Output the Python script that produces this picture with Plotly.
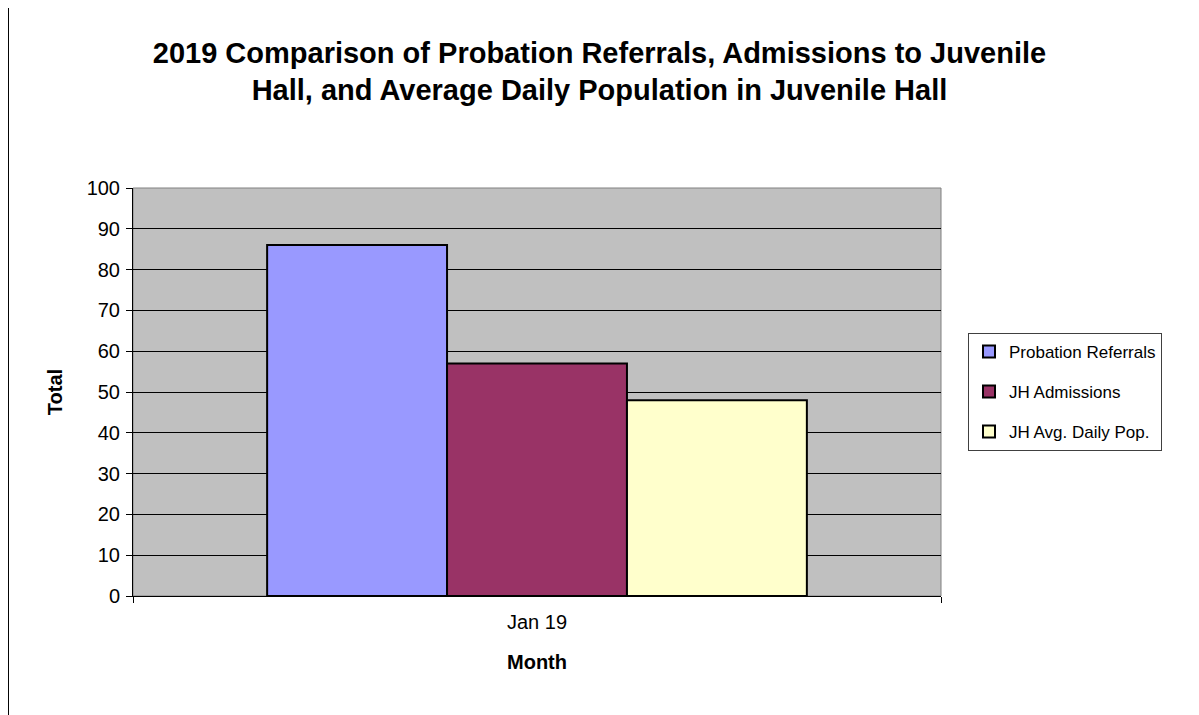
import plotly.graph_objects as go

categories = ["Jan 19"]
series_names = ["Probation Referrals", "JH Admissions", "JH Avg. Daily Pop."]
referrals = [86]
admissions = [57]
daily_pop = [48]
colors = ["#9999FF", "#993366", "#FFFFCC"]
y_ticks = [0, 10, 20, 30, 40, 50, 60, 70, 80, 90, 100]

fig = go.Figure()
for i, (name, vals) in enumerate(zip(series_names, [referrals, admissions, daily_pop])):
    fig.add_trace(go.Bar(
        x=categories, y=vals, name=name, legendgroup=str(i),
        marker=dict(color=colors[i], line=dict(color="black", width=2)),
    ))

fig.update_layout(
    width=1199, height=715,
    paper_bgcolor="white", plot_bgcolor="#C0C0C0",
    margin=dict(l=125, r=266, t=180, b=127),
    barmode="group", bargap=0.332, bargroupgap=0,
    font=dict(family="Liberation Sans, Arial, sans-serif", color="black"),
    title=dict(
        text="<b>2019 Comparison of Probation Referrals, Admissions to Juvenile<br>Hall, and Average Daily Population in Juvenile Hall</b>",
        x=0.4933, xanchor="center", y=0.9235, yanchor="middle",
        font=dict(size=29, color="black"),
    ),
    legend=dict(
        x=1.0334, xanchor="left", y=0.645, yanchor="top",
        bordercolor="#404040", borderwidth=1, bgcolor="white",
        font=dict(size=17, color="black"),
        tracegroupgap=15, traceorder="grouped",
        itemwidth=30,
    ),
    showlegend=True,
    shapes=[
        dict(type="rect", xref="paper", yref="paper", x0=0, x1=1, y0=0, y1=1,
             line=dict(color="#808080", width=1), layer="below"),
        dict(type="line", xref="paper", yref="paper", x0=-0.1541, x1=-0.1541, y0=-0.4, y1=1.5,
             line=dict(color="black", width=1)),
    ],
)

fig.update_xaxes(
    type="category", showgrid=False, showline=True, linecolor="black", linewidth=1,
    ticks="outside", tickson="boundaries", ticklen=6, tickcolor="black",
    tickfont=dict(size=20), ticklabelstandoff=8,
    title=dict(text="<b>Month</b>", font=dict(size=20), standoff=22),
)
fig.update_yaxes(
    range=[0, 100], tickvals=y_ticks, showgrid=True, gridcolor="black", gridwidth=1,
    showline=True, linecolor="black", linewidth=1, zeroline=False,
    ticks="outside", ticklen=6, tickcolor="black",
    tickfont=dict(size=20), ticklabelstandoff=2,
    title=dict(text="<b>Total</b>", font=dict(size=20), standoff=18),
)

fig.write_html("out.html")
